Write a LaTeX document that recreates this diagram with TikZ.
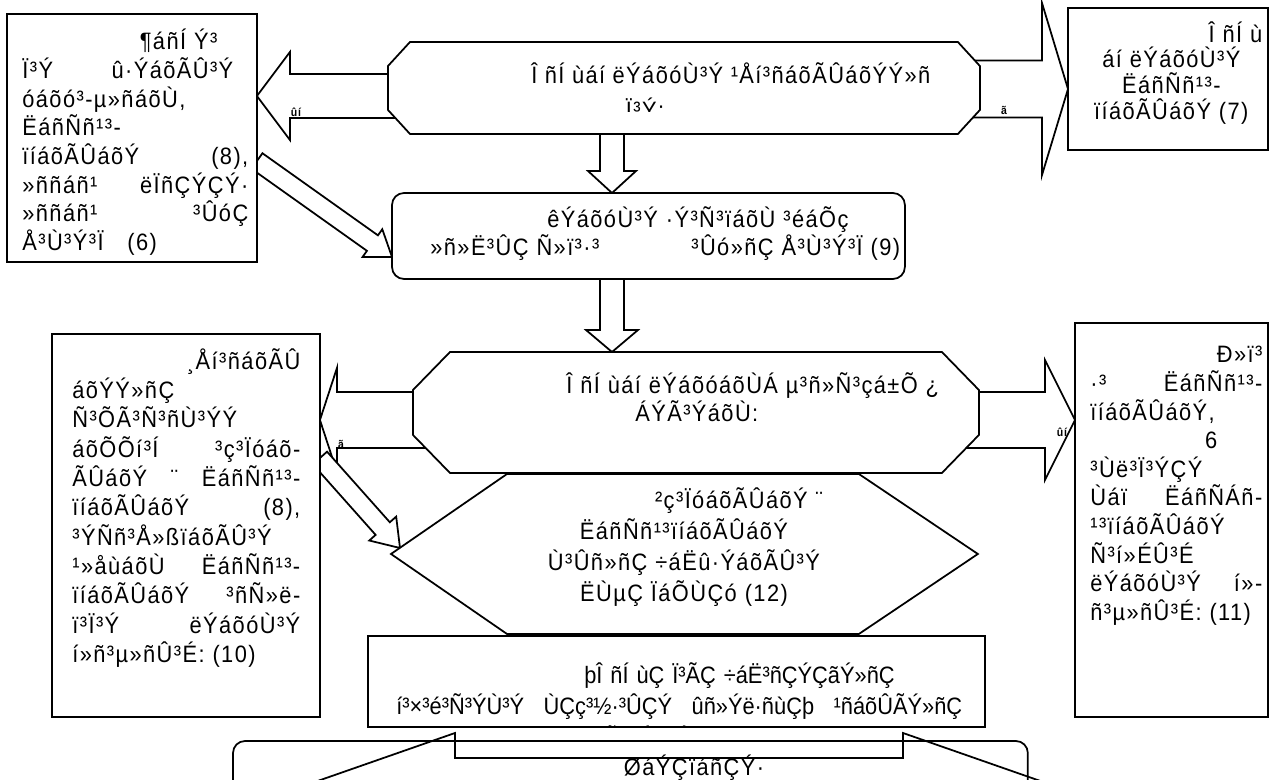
\documentclass[tikz,border=0pt]{standalone}
\usepackage{fontspec}
\setmainfont{Liberation Sans}[FakeStretch=0.92, LetterSpace=6]
\usetikzlibrary{calc}

\tikzset{
  line/.style={line width=1pt, line join=miter},
  ghost/.style={inner sep=0pt, outer sep=0pt, anchor=north west},
  txt/.style={inner sep=0pt, font=\fontsize{13.5}{16.4}\selectfont},
  blockarr/.style={line, draw, fill=white},
  tag/.style={inner sep=0pt, font=\fontsize{6.5}{7}\selectfont\bfseries}
}

% block arrow: tail, tip, half shaft, half head, head length
\newcommand{\blockarrow}[5]{%
  \coordinate (ba) at ($(#2)!#5!(#1)$);
  \draw[blockarr] ($(#1)!#3!90:(#2)$) -- ($(ba)!#3!-90:(#1)$) -- ($(ba)!#4!-90:(#1)$)
    -- (#2) -- ($(ba)!#4!90:(#1)$) -- ($(ba)!#3!90:(#1)$) -- ($(#1)!#3!-90:(#2)$) -- cycle;
}

% octagon round a node: node, corner x, corner y
\newcommand{\chamfered}[3]{%
  \draw[line, fill=white] ([xshift=#2]#1.north west) -- ([xshift=-#2]#1.north east) -- ([yshift=-#3]#1.north east)
    -- ([yshift=#3]#1.south east) -- ([xshift=-#2]#1.south east) -- ([xshift=#2]#1.south west)
    -- ([yshift=#3]#1.south west) -- ([yshift=-#3]#1.north west) -- cycle;
}

\begin{document}
\begin{tikzpicture}[x=0.02cm, y=-0.02cm]
    \useasboundingbox (0,0) rectangle (1272,780);
    \fill[white] (0,0) rectangle (1272,780);

    % Define places of the boxes
    \node[ghost, minimum width=5cm, minimum height=4.96cm] (help) at (7,14) {};
    \node[ghost, minimum width=11.84cm, minimum height=1.84cm] (symp) at (388,42) {};
    \node[ghost, minimum width=4cm, minimum height=2.84cm] (couns) at (1068,8) {};
    \node[ghost, minimum width=10.26cm, minimum height=1.72cm] (assess) at (392,193) {};
    \node[ghost, minimum width=11.32cm, minimum height=2.42cm] (ok) at (413,352) {};
    \node[ghost, minimum width=5.36cm, minimum height=7.66cm] (diff) at (52,334) {};
    \node[ghost, minimum width=3.86cm, minimum height=7.88cm] (more) at (1075,323) {};
    \node[ghost, minimum width=11.74cm, minimum height=3.2cm] (support) at (391,474) {};
    \node[ghost, minimum width=12.34cm, minimum height=1.82cm] (code) at (368,636) {};
    \node[ghost, minimum width=15.9cm, minimum height=1.24cm] (monbox) at (233,741) {};

    % Block arrows (tails hidden under the shapes)
    \coordinate (a1s) at ([xshift=0.2cm]symp.west |- 0,96);
    \coordinate (a1e) at (help.east |- 0,96);
    \blockarrow{a1s}{a1e}{0.44cm}{0.88cm}{0.66cm}
    \coordinate (a2s) at ([xshift=-0.2cm]symp.east |- 0,89);
    \coordinate (a2e) at (couns.west |- 0,89);
    \blockarrow{a2s}{a2e}{0.57cm}{1.72cm}{0.52cm}
    \coordinate (a3s) at ([yshift=0.2cm]symp.south -| 612,0);
    \coordinate (a3e) at (assess.north -| 612,0);
    \blockarrow{a3s}{a3e}{0.24cm}{0.48cm}{0.44cm}
    \coordinate (a4s) at (help.east |- 0,161);
    \coordinate (a4e) at (assess.west |- 0,257);
    \blockarrow{a4s}{a4e}{0.19cm}{0.34cm}{0.48cm}
    \coordinate (a5s) at ([yshift=0.2cm]assess.south -| 612,0);
    \coordinate (a5e) at (ok.north -| 612,0);
    \blockarrow{a5s}{a5e}{0.24cm}{0.52cm}{0.44cm}
    \coordinate (a6s) at ([xshift=0.24cm]ok.west |- 0,420);
    \coordinate (a6e) at (diff.east |- 0,420);
    \blockarrow{a6s}{a6e}{0.56cm}{1.04cm}{0.34cm}
    \coordinate (a7s) at ([xshift=-0.24cm]ok.east |- 0,420);
    \coordinate (a7e) at (more.west |- 0,420);
    \blockarrow{a7s}{a7e}{0.56cm}{1.2cm}{0.6cm}
    \coordinate (a8s) at (diff.east |- 0,458);
    \coordinate (a8e) at (400,548);
    \blockarrow{a8s}{a8e}{0.19cm}{0.36cm}{0.52cm}

    % Draw boxes
    \draw[line, fill=white] (help.north west) rectangle (help.south east);
    \draw[line, fill=white] (couns.north west) rectangle (couns.south east);
    \draw[line, fill=white, rounded corners=0.24cm] (assess.north west) rectangle (assess.south east);
    \draw[line, fill=white] (diff.north west) rectangle (diff.south east);
    \draw[line, fill=white] (more.north west) rectangle (more.south east);
    \chamfered{symp}{0.44cm}{0.48cm}
    \chamfered{ok}{0.74cm}{0.76cm}
    \draw[line, fill=white] (support.west) -- ([xshift=2.32cm]support.north west) -- ([xshift=-2.38cm]support.north east)
      -- (support.east) -- ([xshift=-2.38cm]support.south east) -- ([xshift=2.32cm]support.south west) -- cycle;
    \draw[line, fill=white] (code.north west) rectangle (code.south east);
    \draw[line, rounded corners=0.24cm] (monbox.south west) |- (monbox.north east) -- (monbox.south east);

    % Double arrow at the bottom
    \draw[line] (455,733) -- (455,758) -- (903,758) -- (903,733) -- (1049,784) -- (903,835)
      -- (903,810) -- (455,810) -- (455,835) -- (309,784) -- cycle;

    % Arrow tags
    \node[tag] (y1) at (296,112) {ûí};
    \node[tag] (n1) at (1004,110) {ã};
    \node[tag] (n2) at (341,444) {ã};
    \node[tag] (y2) at (1062,432) {ûí};

    % Texts
    \node[txt, font=\fontsize{13.5}{16.3}\selectfont, text width=4.52cm, align=left, anchor=north west] (helpt) at (22,29) {%
      \hspace*{\fill}¶áñÍ Ý³\rule{0.62cm}{0pt}\\
      Ï³Ý\hfill û·ÝáõÃÛ³Ý\rule{0.3cm}{0pt}\\
      óáõó³-µ»ñáõÙ,\\
      ËáñÑñ¹³-\\
      ïíáõÃÛáõÝ\hfill (8),\\
      »ññáñ¹\hfill ëÏñÇÝÇÝ·\\
      »ññáñ¹\hfill ³ÛóÇ\\
      Å³Ù³Ý³Ï\quad (6)};
    \node[txt, font=\fontsize{13.5}{14.6}\selectfont, text width=3.64cm, align=center, anchor=north west] (counst) at (1080,21) {%
      \hspace*{\fill}Î ñÍ ù\\
      áí ëÝáõóÙ³Ý\\
      ËáñÑñ¹³-\\
      ïíáõÃÛáõÝ (7)};
    \node[txt, anchor=west] (sympt) at (531,73) {Î ñÍ ùáí ëÝáõóÙ³Ý ¹Åí³ñáõÃÛáõÝÝ»ñ};
    \begin{scope}
      \clip (388,42) rectangle (980,112);
      \node[txt] (sympu) at (645,108) {Ï³Ý:};
    \end{scope}
    \node[txt, text width=9.4cm, align=left, anchor=north west] (assesst) at (430,206) {%
      \hspace*{2.34cm}êÝáõóÙ³Ý ·Ý³Ñ³ïáõÙ ³éáÕç\\
      »ñ»Ë³ÛÇ Ñ»ï³·³\hfill ³Ûó»ñÇ Å³Ù³Ý³Ï (9)};
    \node[txt, text width=8.4cm, align=left, anchor=north west] (okt) at (566,372) {%
      Î ñÍ ùáí ëÝáõóáõÙÁ µ³ñ»Ñ³çá±Õ ¿\\
      \hspace*{1.38cm}ÁÝÃ³ÝáõÙ:};
    \node[txt, font=\fontsize{13.5}{16.7}\selectfont, text width=4.56cm, align=left, anchor=north west] (difft) at (72,348) {%
      \hspace*{\fill}¸Åí³ñáõÃÛ\\
      áõÝÝ»ñÇ\\
      Ñ³ÕÃ³Ñ³ñÙ³ÝÝ\\
      áõÕÕí³Í\hfill ³ç³Ïóáõ-\\
      ÃÛáõÝ\hfill ¨\hfill ËáñÑñ¹³-\\
      ïíáõÃÛáõÝ\hfill (8),\\
      ³ÝÑñ³Å»ßïáõÃÛ³Ý\\
      ¹»åùáõÙ\hfill ËáñÑñ¹³-\\
      ïíáõÃÛáõÝ\hfill ³ñÑ»ë-\\
      ï³Ï³Ý\hfill ëÝáõóÙ³Ý\\
      í»ñ³µ»ñÛ³É: (10)};
    \node[txt, font=\fontsize{13.5}{16.3}\selectfont, text width=3.44cm, align=left, anchor=north west] (moret) at (1090,346) {%
      \hspace*{\fill}Ð»ï³\\
      ·³\hfill ËáñÑñ¹³-\\
      ïíáõÃÛáõÝ,\\
      \hspace*{\fill}6\rule{0.9cm}{0pt}\\
      ³Ùë³Ï³ÝÇÝ\\
      Ùáï\hfill ËáñÑÁñ-\\
      ¹³ïíáõÃÛáõÝ\\
      Ñ³í»ÉÛ³É\\
      ëÝáõóÙ³Ý\hfill í»-\\
      ñ³µ»ñÛ³É: (11)};
    \node[txt, font=\fontsize{13.5}{17.6}\selectfont, text width=7.4cm, align=center] (supportt) at (684,547) {%
      \hspace*{2.2cm}²ç³ÏóáõÃÛáõÝ ¨\\
      ËáñÑñ¹³ïíáõÃÛáõÝ\\
      Ù³Ûñ»ñÇ ÷áËû·ÝáõÃÛ³Ý\\
      ËÙµÇ ÏáÕÙÇó (12)};
    \begin{scope}
      \clip (368,636) rectangle (985,726);
      \node[txt, font=\fontsize{13.5}{18.1}\selectfont\addfontfeature{LetterSpace=0}, text width=11.32cm, align=left, anchor=north west] (codet) at (396,662) {%
        \hspace*{3.76cm}þÎ ñÍ ùÇ Ï³ÃÇ ÷áË³ñÇÝÇãÝ»ñÇ\\
        í³×³é³Ñ³ÝÙ³Ý\hfill ÙÇç³½·³ÛÇÝ\hfill ûñ»Ýë·ñùÇþ\hfill ¹ñáõÛÃÝ»ñÇ\\
        \hspace*{3.76cm}å³Ñå³ÝáõÙ (13)};
    \end{scope}
    \node[txt] (mont) at (694,768) {ØáÝÇïáñÇÝ·};
\end{tikzpicture}
\end{document}
